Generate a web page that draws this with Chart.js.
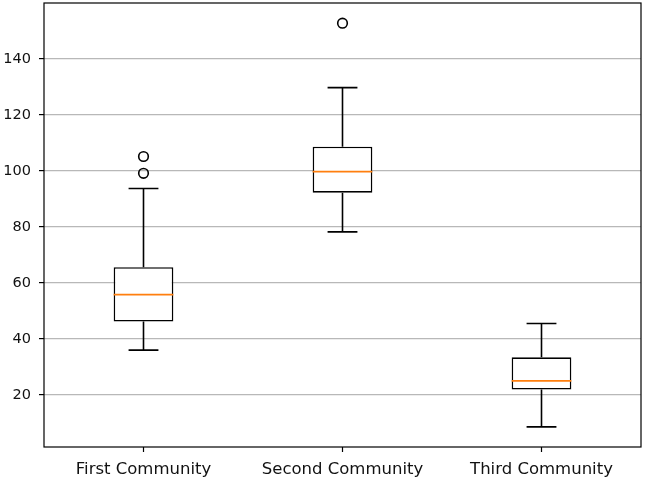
<!DOCTYPE html>
<html>
<head>
<meta charset="utf-8">
<script src="https://cdn.jsdelivr.net/npm/chart.js@4/dist/chart.umd.min.js"></script>
<style>
    html, body { margin: 0; padding: 0; background: #fff; }
    #wrap { width: 645px; height: 481px; }
</style>
</head>
<body>
<div id="wrap"><canvas id="chart-box"></canvas></div>
<script>
// values
const categories = ['First Community', 'Second Community', 'Third Community'];
const whiskerLow = [36.0, 78.2, 8.6];
const q1 = [46.2, 92.2, 21.9];
const medians = [55.8, 99.7, 25.0];
const q3 = [65.6, 108.6, 33.4];
const whiskerHigh = [93.7, 129.7, 45.5];
const outliers = [[105.1, 99.1], [152.7], []];
const yTicks = [20, 40, 60, 80, 100, 120, 140];

const BOX_HALF = 0.15;
const CAP_HALF = 0.075;

const whiskerPoints = [];
const capPoints = [];
const medianPoints = [];
const outlierPoints = [];
categories.forEach((c, i) => {
    const pos = i + 1;
    whiskerPoints.push({x: pos, y: q1[i]}, {x: pos, y: whiskerLow[i]}, {x: pos, y: null});
    whiskerPoints.push({x: pos, y: q3[i]}, {x: pos, y: whiskerHigh[i]}, {x: pos, y: null});
    capPoints.push({x: pos - CAP_HALF, y: whiskerLow[i]}, {x: pos + CAP_HALF, y: whiskerLow[i]}, {x: pos, y: null});
    capPoints.push({x: pos - CAP_HALF, y: whiskerHigh[i]}, {x: pos + CAP_HALF, y: whiskerHigh[i]}, {x: pos, y: null});
    medianPoints.push({x: pos - BOX_HALF, y: medians[i]}, {x: pos + BOX_HALF, y: medians[i]}, {x: pos, y: null});
    outliers[i].forEach(v => outlierPoints.push({x: pos, y: v}));
});

const frame = {
    id: 'frame',
    afterDraw(chart) {
        const a = chart.chartArea;
        const ctx = chart.ctx;
        ctx.save();
        ctx.strokeStyle = '#000';
        ctx.lineWidth = 1.2;
        ctx.strokeRect(a.left, a.top, a.right - a.left, a.bottom - a.top);
        ctx.restore();
    }
};

const lineStyle = {
    type: 'line',
    borderColor: '#000',
    borderWidth: 1.6,
    pointRadius: 0,
    spanGaps: false,
    fill: false
};

new Chart(document.getElementById('chart-box'), {
    data: {
        datasets: [
            Object.assign({}, lineStyle, {data: medianPoints, borderColor: '#ff7f0e', order: 0}),
            {
                type: 'scatter',
                data: outlierPoints,
                pointRadius: 4.8,
                pointBorderWidth: 1.6,
                pointBorderColor: '#000',
                pointBackgroundColor: 'rgba(0,0,0,0)',
                order: 1
            },
            Object.assign({}, lineStyle, {data: whiskerPoints, order: 2}),
            Object.assign({}, lineStyle, {data: capPoints, order: 2}),
            {
                type: 'bar',
                data: categories.map((c, i) => ({x: i + 1, y: [q1[i], q3[i]]})),
                backgroundColor: '#fff',
                borderColor: '#000',
                borderWidth: 1.6,
                borderSkipped: false,
                inflateAmount: 0,
                categoryPercentage: 1,
                barPercentage: 0.3,
                order: 3
            }
        ]
    },
    options: {
        responsive: true,
        maintainAspectRatio: false,
        animation: false,
        layout: {autoPadding: false, padding: {top: 3, right: 4, left: 0, bottom: 0}},
        plugins: {legend: {display: false}, tooltip: {enabled: false}},
        scales: {
            x: {
                type: 'linear',
                min: 0.5,
                max: 3.5,
                offset: false,
                afterBuildTicks: (scale) => { scale.ticks = categories.map((c, i) => ({value: i + 1})); },
                afterFit: (scale) => {
                    scale.height = 34;
                    scale.paddingLeft = 0;
                    scale.paddingRight = 0;
                },
                border: {display: false},
                grid: {offset: false, drawOnChartArea: false, drawTicks: true, tickLength: 5, tickColor: '#000', tickWidth: 1.2},
                ticks: {
                    callback: (v) => categories[v - 1],
                    color: '#111',
                    padding: 8,
                    maxRotation: 0,
                    autoSkip: false,
                    font: {family: 'DejaVu Sans', size: 16.5}
                }
            },
            y: {
                min: 1.4,
                max: 159.9,
                afterBuildTicks: (scale) => { scale.ticks = yTicks.map(v => ({value: v})); },
                afterFit: (scale) => {
                    scale.width = 44;
                    scale.paddingTop = 0;
                    scale.paddingBottom = 0;
                },
                border: {display: false},
                grid: {color: '#b8b8b8', lineWidth: 1.2, drawTicks: true, tickLength: 5, tickColor: '#000', tickWidth: 1.2},
                ticks: {
                    color: '#111',
                    padding: 8,
                    font: {family: 'DejaVu Sans', size: 14.5}
                }
            }
        }
    },
    plugins: [frame]
});
</script>
</body>
</html>
